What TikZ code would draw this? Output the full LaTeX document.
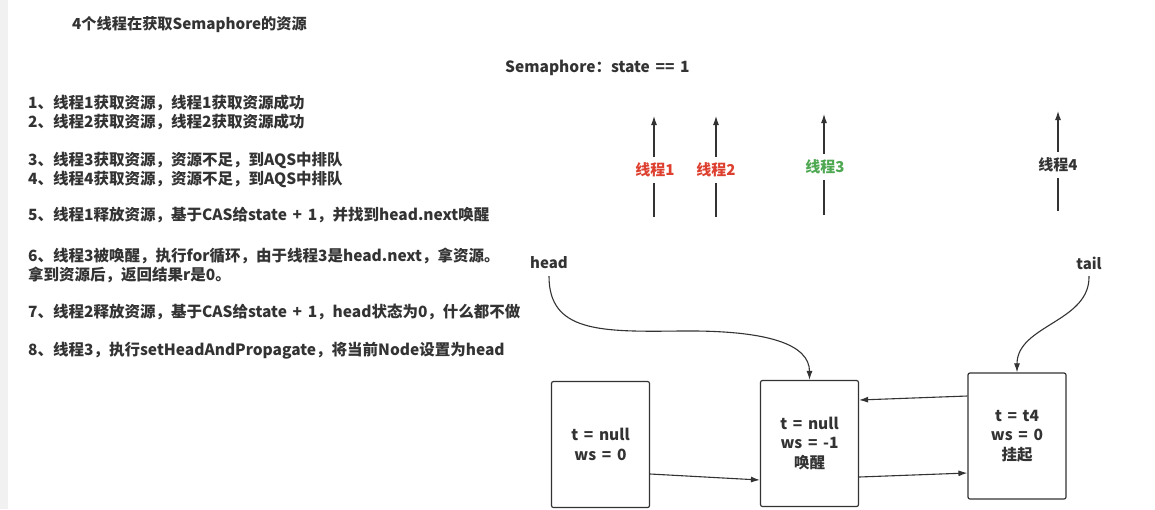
\documentclass[tikz,border=0pt]{standalone}
\usepackage{fontspec}
\setmainfont{Noto Sans CJK SC}[WordSpace=1.6]
\usetikzlibrary{arrows.meta}
\definecolor{ink}{HTML}{333333}
\definecolor{redt}{RGB}{222,64,48}
\definecolor{greent}{RGB}{78,168,82}
\definecolor{strip}{RGB}{241,241,241}
\begin{document}
\begin{tikzpicture}[x=1pt,y=-1pt,
  txt/.style={font=\fontsize{15.5}{19}\selectfont\bfseries, text=ink, inner sep=0pt, anchor=west},
  lbl/.style={font=\fontsize{15}{19}\selectfont\bfseries, inner sep=0pt, minimum height=26pt},
  box/.style={draw=ink, line width=1.2pt, rounded corners=2pt, minimum width=98pt, minimum height=126pt,
    align=center, font=\fontsize{15.5}{19.5}\selectfont\bfseries, text=ink, inner sep=0pt},
  arr/.style={draw=ink, line width=1.1pt, -{Latex[length=9pt,width=6pt]}},
  ln/.style={draw=ink, line width=1.1pt}]
\useasboundingbox (0,0) rectangle (1155,509);
\fill[white] (0,0) rectangle (1155,509);
\fill[strip] (0,0) rectangle (8,509);

% title
\node[txt, font=\fontsize{15.2}{19}\selectfont\bfseries] (title) at (72,25) {4个线程在获取Semaphore的资源};

% steps
\node[txt] (s1) at (28,103) {1、线程1获取资源，线程1获取资源成功};
\node[txt] (s2) at (28,122) {2、线程2获取资源，线程2获取资源成功};
\node[txt] (s3) at (28,160) {3、线程3获取资源，资源不足，到AQS中排队};
\node[txt] (s4) at (28,179) {4、线程4获取资源，资源不足，到AQS中排队};
\node[txt] (s5) at (28,215) {5、线程1释放资源，基于CAS给state + 1，并找到head.next唤醒};
\node[txt] (s6) at (28,256) {6、线程3被唤醒，执行for循环，由于线程3是head.next，拿资源。};
\node[txt] (s6b) at (28,275) {拿到资源后，返回结果r是0。};
\node[txt] (s7) at (28,312) {7、线程2释放资源，基于CAS给state + 1，head状态为0，什么都不做};
\node[txt] (s8) at (28,351) {8、线程3，执行setHeadAndPropagate，将当前Node设置为head};

% semaphore
\node[txt] (sem) at (505,68) {Semaphore：state == 1};

% threads
\node[lbl, text=redt] (l1) at (655,170) {线程1};
\node[lbl, text=redt] (l2) at (716,170) {线程2};
\node[lbl, text=greent] (l3) at (825,167) {线程3};
\node[lbl, text=ink] (l4) at (1058,165) {线程4};
\coordinate (t1) at (654,116); \coordinate (b1c) at (654,217);
\coordinate (t2) at (716,116); \coordinate (b2c) at (716,217);
\coordinate (t3) at (824,114); \coordinate (b3c) at (824,215);
\coordinate (t4) at (1058,111); \coordinate (b4c) at (1058,211);
\draw[arr] (l1.north -| t1) -- (t1);
\draw[ln] (b1c) -- (l1.south -| b1c);
\draw[arr] (l2.north -| t2) -- (t2);
\draw[ln] (b2c) -- (l2.south -| b2c);
\draw[arr] (l3.north -| t3) -- (t3);
\draw[ln] (b3c) -- (l3.south -| b3c);
\draw[arr] (l4.north -| t4) -- (t4);
\draw[ln] (b4c) -- (l4.south -| b4c);

% head / tail
\node[lbl, text=ink] (head) at (549,263) {head};
\node[lbl, text=ink] (tail) at (1089,263) {tail};

% boxes
\node[box] (n1) at (600.5,444.5) {t = null\\ws = 0};
\node[box] (n2) at (809.5,443.5) {t = null\\ws = -1\\唤醒};
\node[box] (n3) at (1017,436) {t = t4\\ws = 0\\挂起};

\draw[arr] (head.south) .. controls (549,332) and (600,332) .. (680,331)
  .. controls (770,330) and (809.5,345) .. (n2.north);
\draw[arr] (tail.south) .. controls (1090,322) and (1017,325) .. (n3.north);

\draw[arr] (n1.east |- 0,474) -- (n2.west |- 0,480);
\draw[arr] (n2.east |- 0,477) -- (n3.west |- 0,473);
\draw[arr] (n3.west |- 0,396) -- (n2.east |- 0,400);
\end{tikzpicture}
\end{document}
